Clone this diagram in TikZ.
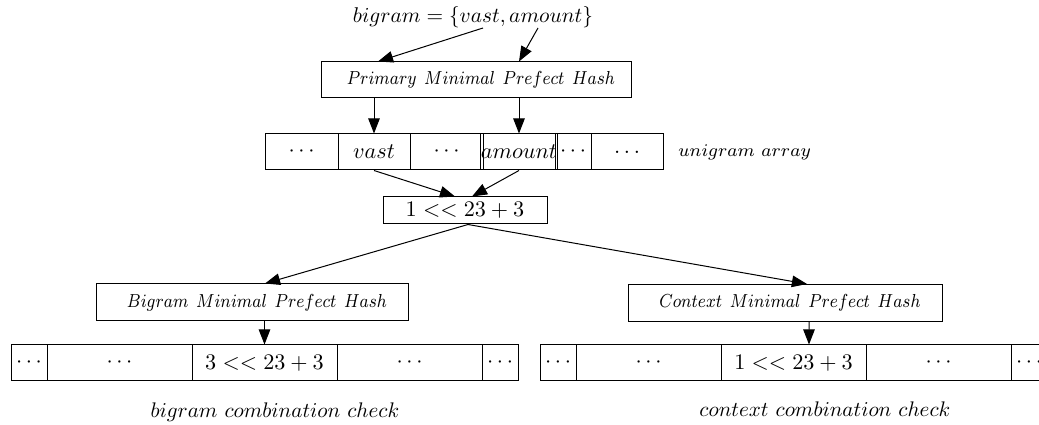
\documentclass[tikz,border=0pt]{standalone}
\usetikzlibrary{arrows.meta,calc}

\tikzset{
  wpx/.style={minimum width=#1*0.45pt},
  hpx/.style={minimum height=#1*0.45pt},
  frame/.style={draw, line width=0.45pt, inner sep=0pt},
  cell/.style={frame, wpx=#1, hpx=36, font=\fontsize{10}{12}\selectfont},
  hashbox/.style={frame, hpx=37, font=\fontsize{8}{10}\selectfont},
  note/.style={inner sep=0pt, font=\fontsize{10}{12}\selectfont},
  conn/.style={line width=0.45pt, -{Triangle[length=6.8pt,width=5.2pt]}},
}
% hash box caption: narrower letters, wide word gaps, set a little right of centre
\newcommand\wgap{\mskip 2mu}
\newcommand\hashtext[1]{\hspace*{4.5pt}\scalebox{0.92}[1.06]{$#1$}}

\begin{document}
\begin{tikzpicture}[x=0.45pt, y=-0.45pt]
  \useasboundingbox (0,0) rectangle (1039,425);

  % query and primary hash
  \node[note, anchor=base, scale=0.96] (query) at (473,23) {$bigram = \{vast, amount\}$};
  \coordinate (qv) at (483,28);
  \coordinate (qa) at (538,28);
  \node[hashbox, wpx=310, hpx=36] (prim) at (476,80) {\hashtext{Primary\ \wgap Minimal\ \wgap Prefect\ \wgap Hash}};

  % unigram array
  \node[cell=73] (u0) at (301.5,152) {$\cdots$};
  \node[cell=72] (u1) at (374,152) {$vast$};
  \node[cell=73] (u2) at (446.5,152) {$\cdots$};
  \node[cell=72] (u3) at (519,152) {$amount$};
  \node[cell=36] (u4) at (573,152) {$\cdots$};
  \node[cell=72] (u5) at (627,152) {$\ldots$};
  \node[note, anchor=west, font=\fontsize{8}{10}\selectfont] (ulabel) at (678,152) {\scalebox{1.03}[1]{$unigram\ array$}};

  % combined id
  \node[frame, wpx=164, hpx=27, font=\fontsize{10}{12}\selectfont] (comb) at (465,210.5) {$1 << 23 + 3$};

  % second level hashes
  \node[hashbox, wpx=312] (bh) at (252,302.5) {\hashtext{Bigram\ \wgap Minimal\ \wgap Prefect\ \wgap Hash}};
  \node[hashbox, wpx=314] (ch) at (785,303) {\hashtext{Context\ \wgap Minimal\ \wgap Prefect\ \wgap Hash}};

  % bigram array
  \node[cell=36]  (b0) at (29,363) {$\cdots$};
  \node[cell=145] (b1) at (119.5,363) {$\cdots$};
  \node[cell=145] (b2) at (264.5,363) {$3 << 23 + 3$};
  \node[cell=145] (b3) at (409.5,363) {$\cdots$};
  \node[cell=36]  (b4) at (500,363) {$\cdots$};

  % context array
  \node[cell=36]  (c0) at (558,363) {$\cdots$};
  \node[cell=145] (c1) at (648.5,363) {$\cdots$};
  \node[cell=145] (c2) at (793.5,363) {$1 << 23 + 3$};
  \node[cell=145] (c3) at (938.5,363) {$\cdots$};
  \node[cell=36]  (c4) at (1029,363) {$\cdots$};

  \node[note, anchor=base, scale=0.95] (blabel) at (275,418) {$bigram\ combination\ check$};
  \node[note, anchor=base, scale=0.95] (clabel) at (825,417) {$context\ combination\ check$};

  % connectors
  \draw[conn] (qv) -- ($(prim.north)+(-98,0)$);
  \draw[conn] (qa) -- ($(prim.north)+(43,0)$);
  \draw[conn] (prim.south -| u1) -- (u1.north);
  \draw[conn] (prim.south -| u3) -- (u3.north);
  \draw[conn] (u1.south) -- ($(comb.north)+(-10,0)$);
  \draw[conn] (u3.south) -- ($(comb.north)+(7,0)$);
  \draw[conn] ($(comb.south)+(3,0)$) -- ($(bh.north)+(13,0)$);
  \draw[conn] ($(comb.south)+(3,0)$) -- ($(ch.north)+(22,0)$);
  \draw[conn] (bh.south -| b2) -- (b2.north);
  \draw[conn] ($(ch.south)+(24,0)$) -- ($(c2.north)+(15.5,0)$);
\end{tikzpicture}
\end{document}
